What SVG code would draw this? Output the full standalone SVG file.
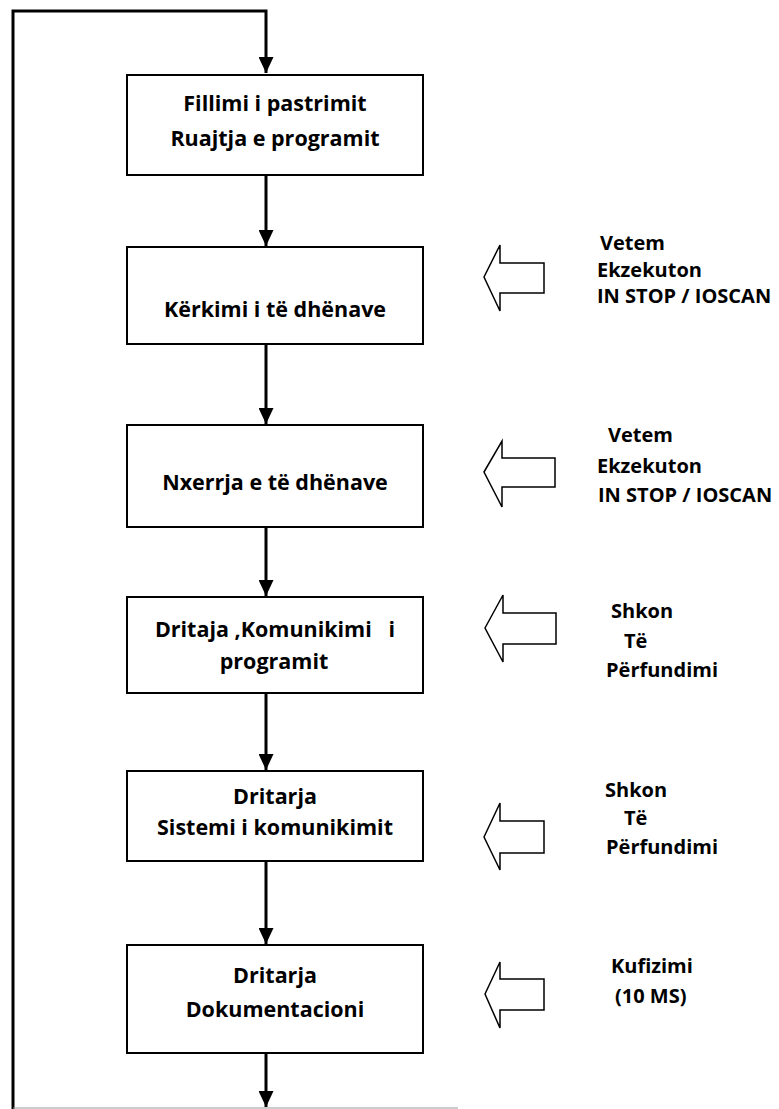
<svg xmlns="http://www.w3.org/2000/svg" width="779" height="1109" viewBox="0 0 779 1109">
<defs>
<marker id="ah" viewBox="0 0 16 15" refX="16" refY="7.5" markerWidth="16" markerHeight="15" markerUnits="userSpaceOnUse" orient="auto">
<path d="M0,0 L16,7.5 L0,15 Z" fill="#000"/>
</marker>
<style>
.box{fill:#fff;stroke:#000;stroke-width:2}
.t{font-family:"Open Sans","Liberation Sans",sans-serif;font-weight:bold;font-size:20px;fill:#000}
.c{text-anchor:middle;font-size:21.5px}
.con{fill:none;stroke:#000;stroke-width:3}
.blk{fill:#fff;stroke:#000;stroke-width:1.5;stroke-linejoin:miter}
</style>
</defs>
<rect width="779" height="1109" fill="#fff"/>
<g id="connectors">
<polyline class="con" points="13,1109 13,11 266,11 266,73" marker-end="url(#ah)"/>
<line class="con" x1="266" y1="175" x2="266" y2="246" marker-end="url(#ah)"/>
<line class="con" x1="266" y1="344" x2="266" y2="424" marker-end="url(#ah)"/>
<line class="con" x1="266" y1="527" x2="266" y2="596" marker-end="url(#ah)"/>
<line class="con" x1="266" y1="693" x2="266" y2="770" marker-end="url(#ah)"/>
<line class="con" x1="266" y1="861" x2="266" y2="944" marker-end="url(#ah)"/>
<line class="con" x1="266" y1="1053" x2="266" y2="1107" marker-end="url(#ah)"/>
<line x1="13" y1="1108" x2="458" y2="1108" stroke="#999" stroke-width="1"/>
</g>
<g id="n1"><rect class="box" x="127" y="75" width="296" height="100"/>
<text class="t c" x="275" y="111">Fillimi i pastrimit</text>
<text class="t c" x="275" y="146">Ruajtja e programit</text></g>
<g id="n2"><rect class="box" x="127" y="247" width="296" height="97"/>
<text class="t c" x="275" y="317">Kërkimi i të dhënave</text></g>
<g id="n3"><rect class="box" x="127" y="425" width="296" height="102"/>
<text class="t c" x="275" y="490">Nxerrja e të dhënave</text></g>
<g id="n4"><rect class="box" x="127" y="597" width="296" height="96"/>
<text class="t c" x="275" y="637" xml:space="preserve">Dritaja ,Komunikimi   i</text>
<text class="t c" x="274" y="669">programit</text></g>
<g id="n5"><rect class="box" x="127" y="771" width="296" height="90"/>
<text class="t c" x="275" y="804">Dritarja</text>
<text class="t c" x="275" y="835">Sistemi i komunikimit</text></g>
<g id="n6"><rect class="box" x="127" y="945" width="296" height="108"/>
<text class="t c" x="275" y="983">Dritarja</text>
<text class="t c" x="275" y="1017">Dokumentacioni</text></g>
<g id="s1"><polygon class="blk" points="484,277 500,245 500,263 544,263 544,293 500,293 500,311"/>
<text class="t" x="600" y="250">Vetem</text>
<text class="t" x="597" y="277">Ekzekuton</text>
<text class="t" x="597" y="303">IN STOP / IOSCAN</text></g>
<g id="s2"><polygon class="blk" points="484,472 502,441 502,458 555,458 555,487 502,487 502,507"/>
<text class="t" x="608" y="442">Vetem</text>
<text class="t" x="597" y="473">Ekzekuton</text>
<text class="t" x="598" y="502">IN STOP / IOSCAN</text></g>
<g id="s3"><polygon class="blk" points="485,628 503,595 503,613 556,613 556,644 503,644 503,662"/>
<text class="t" x="611" y="618">Shkon</text>
<text class="t" x="624" y="648">Të</text>
<text class="t" x="606" y="677">Përfundimi</text></g>
<g id="s4"><polygon class="blk" points="484,837 500,803 500,821 544,821 544,853 500,853 500,870"/>
<text class="t" x="605" y="797">Shkon</text>
<text class="t" x="624" y="825">Të</text>
<text class="t" x="606" y="854">Përfundimi</text></g>
<g id="s5"><polygon class="blk" points="485,994 500,962 500,979 544,979 544,1010 500,1010 500,1028"/>
<text class="t" x="611" y="973">Kufizimi</text>
<text class="t" x="615" y="1003">(10 MS)</text></g>
</svg>
